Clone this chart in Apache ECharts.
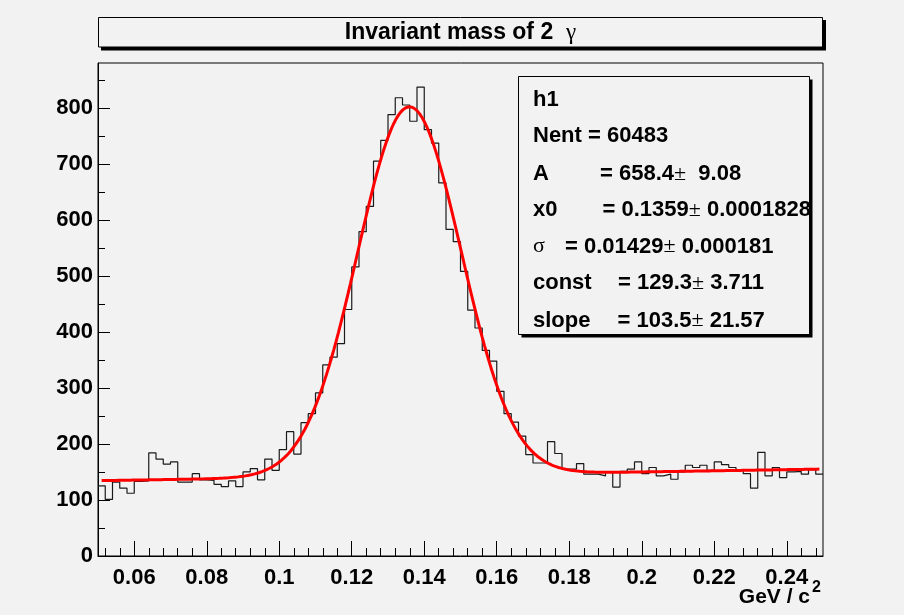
<!DOCTYPE html>
<html>
<head>
<meta charset="utf-8">
<script src="https://cdn.jsdelivr.net/npm/echarts@6/dist/echarts.min.js"></script>
<style>
  html, body { margin: 0; padding: 0; background: #f2f2f2; }
  #chart { width: 904px; height: 615px; }
</style>
</head>
<body>
<div id="chart"></div>
<script>
// Histogram h1: invariant mass of two photons, 100 bins from 0.05 to 0.25 GeV/c^2
const binLow = 0.05;
const binWidth = 0.002;
const binCounts = [
  125, 101, 132, 121, 112, 133, 134, 184, 173, 164,
  168, 132, 132, 147, 136, 135, 128, 124, 134, 124,
  150, 156, 136, 173, 153, 190, 222, 182, 238, 254,
  291, 341, 355, 379, 440, 516, 579, 624, 705, 742,
  788, 818, 805, 776, 837, 761, 737, 666, 583, 561,
  508, 439, 407, 367, 348, 294, 254, 239, 214, 181,
  166, 166, 204, 183, 155, 155, 165, 146, 146, 143,
  150, 123, 151, 155, 168, 147, 158, 143, 146, 137,
  150, 162, 158, 162, 153, 168, 163, 158, 153, 147,
  121, 185, 143, 158, 140, 150, 151, 146, 154, 146
];

// Fit result: gaussian + straight line
const fitA = 658.4;
const fitX0 = 0.1359;
const fitSigma = 0.01429;
const fitConst = 129.3;
const fitSlope = 103.5;
const fitRange = [0.051, 0.249];
const fitSamples = 300;

// Axis ticks and labels
const xMajorTicks = [0.06, 0.08, 0.10, 0.12, 0.14, 0.16, 0.18, 0.20, 0.22, 0.24];
const xTickLabels = ['0.06', '0.08', '0.1', '0.12', '0.14', '0.16', '0.18', '0.2', '0.22', '0.24'];
const xMinorTicks = [0.052, 0.056, 0.064, 0.068, 0.072, 0.076, 0.084, 0.088, 0.092, 0.096,
  0.104, 0.108, 0.112, 0.116, 0.124, 0.128, 0.132, 0.136, 0.144, 0.148, 0.152, 0.156,
  0.164, 0.168, 0.172, 0.176, 0.184, 0.188, 0.192, 0.196, 0.204, 0.208, 0.212, 0.216,
  0.224, 0.228, 0.232, 0.236, 0.244, 0.248];
const yMajorTicks = [0, 100, 200, 300, 400, 500, 600, 700, 800];
const yTickLabels = ['0', '100', '200', '300', '400', '500', '600', '700', '800'];
const yMinorTicks = [50, 150, 250, 350, 450, 550, 650, 750, 850];

// Stats box
const statsNames = ['h1', 'Nent = 60483', 'A', 'x0', 'σ', 'const', 'slope'];
const statsValues = ['', '', '= 658.4±  9.08', '= 0.1359± 0.0001828', '= 0.01429± 0.000181',
  '= 129.3± 3.711', '= 103.5± 21.57'];

const titleText = 'Invariant mass of 2  ';
const titleSymbol = 'γ';
const xTitle = 'GeV / c';
const xTitleSup = '2';

// ---- build series data ----
const histPoints = binCounts.map((v, i) => [binLow + i * binWidth, v]);
histPoints.push([binLow + binCounts.length * binWidth, binCounts[binCounts.length - 1]]);

function fitFunc(x) {
  const t = (x - fitX0) / fitSigma;
  return fitA * Math.exp(-0.5 * t * t) + fitConst + fitSlope * x;
}
const fitPoints = [];
for (let i = 0; i <= fitSamples; i++) {
  const x = fitRange[0] + (fitRange[1] - fitRange[0]) * i / fitSamples;
  fitPoints.push([x, fitFunc(x)]);
}

const FONT = "'Liberation Sans', Arial, Helvetica, sans-serif";
const SYM = "'Liberation Serif', 'DejaVu Serif', serif";

function lookupLabel(ticks, labels, v) {
  for (let i = 0; i < ticks.length; i++) {
    if (Math.abs(ticks[i] - v) < 1e-9) return labels[i];
  }
  return '';
}

// Turn "±" and "σ" into plain (non-bold) symbol spans
function richify(s) {
  let out = '';
  let buf = '';
  for (const ch of s) {
    if (ch === '±' || ch === 'σ') {
      if (buf) { out += '{b|' + buf + '}'; buf = ''; }
      out += '{s|' + ch + '}';
    } else {
      buf += ch;
    }
  }
  if (buf) out += '{b|' + buf + '}';
  return out;
}

const richStyles = {
  b: { fontFamily: FONT, fontWeight: 'bold', fontSize: 22, fill: '#000' },
  s: { fontFamily: SYM, fontWeight: 'normal', fontSize: 22, fill: '#000' }
};

const gridL = 98, gridR = 823, gridT = 63, gridB = 556;

// stats box geometry
const sbX = 518.5, sbY = 76.5, sbW = 291, sbH = 258;
const statsNameX = 533;
const statsValueX = [0, 0, 600, 602.5, 565, 618, 617.5];
const statsLineY = [100, 136, 174, 210, 246.5, 283, 320.5];

const graphics = [];
// title box with shadow
graphics.push({ type: 'rect', z: 50, shape: { x: 101, y: 20, width: 725, height: 30.5 }, style: { fill: '#000' } });
graphics.push({ type: 'rect', z: 51, shape: { x: 98.5, y: 17.5, width: 724, height: 29.5 }, style: { fill: '#f2f2f2', stroke: '#000', lineWidth: 1 } });
graphics.push({
  type: 'text', z: 52,
  style: {
    x: 460.5, y: 32.5,
    text: '{t|' + titleText + '}{g|' + titleSymbol + '}',
    rich: {
      t: { fontFamily: FONT, fontWeight: 'bold', fontSize: 23, fill: '#000' },
      g: { fontFamily: SYM, fontWeight: 'normal', fontSize: 23, fill: '#000' }
    },
    align: 'center', verticalAlign: 'middle', textAlign: 'center', textVerticalAlign: 'middle'
  }
});
// stats box with shadow
graphics.push({ type: 'rect', z: 50, shape: { x: sbX + 3, y: sbY + 3, width: sbW, height: sbH }, style: { fill: '#000' } });
graphics.push({ type: 'rect', z: 51, shape: { x: sbX, y: sbY, width: sbW, height: sbH }, style: { fill: '#f2f2f2', stroke: '#000', lineWidth: 1 } });
statsNames.forEach((name, i) => {
  graphics.push({
    type: 'text', z: 52,
    style: {
      x: statsNameX, y: statsLineY[i], text: richify(name), rich: richStyles,
      align: 'left', verticalAlign: 'middle', textAlign: 'left', textVerticalAlign: 'middle'
    }
  });
  if (statsValues[i]) {
    graphics.push({
      type: 'text', z: 52,
      style: {
        x: statsValueX[i], y: statsLineY[i], text: richify(statsValues[i]), rich: richStyles,
        align: 'left', verticalAlign: 'middle', textAlign: 'left', textVerticalAlign: 'middle'
      }
    });
  }
});
// x axis title with superscript
graphics.push({
  type: 'text', z: 52,
  style: { x: 810, y: 597, text: xTitle, fill: '#000', font: 'bold 21px ' + FONT,
    align: 'right', verticalAlign: 'middle', textAlign: 'right', textVerticalAlign: 'middle' }
});
graphics.push({
  type: 'text', z: 52,
  style: { x: 812, y: 588, text: xTitleSup, fill: '#000', font: 'bold 16px ' + FONT,
    align: 'left', verticalAlign: 'middle', textAlign: 'left', textVerticalAlign: 'middle' }
});

const chart = echarts.init(document.getElementById('chart'), null, { renderer: 'canvas' });
chart.setOption({
  animation: false,
  backgroundColor: '#f2f2f2',
  grid: {
    left: gridL, right: 904 - gridR, top: gridT, bottom: 615 - gridB,
    show: true, borderColor: '#000', borderWidth: 1, backgroundColor: '#f2f2f2',
    containLabel: false
  },
  xAxis: [
    {
      type: 'value', min: binLow, max: binLow + binCounts.length * binWidth, position: 'bottom',
      axisLine: { show: true, onZero: false, lineStyle: { color: '#000', width: 1 } },
      axisTick: { show: true, inside: true, length: 15, customValues: xMajorTicks, lineStyle: { color: '#000' } },
      axisLabel: {
        show: true, customValues: xMajorTicks, margin: 11,
        formatter: v => lookupLabel(xMajorTicks, xTickLabels, v),
        color: '#000', fontFamily: FONT, fontWeight: 'bold', fontSize: 22
      },
      splitLine: { show: false }
    },
    {
      type: 'value', min: binLow, max: binLow + binCounts.length * binWidth, position: 'bottom',
      axisLine: { show: false, onZero: false },
      axisTick: { show: true, inside: true, length: 8, customValues: xMinorTicks, lineStyle: { color: '#000' } },
      axisLabel: { show: false },
      splitLine: { show: false }
    }
  ],
  yAxis: [
    {
      type: 'value', min: 0, max: 880, position: 'left',
      axisLine: { show: true, onZero: false, lineStyle: { color: '#000', width: 1 } },
      axisTick: { show: true, inside: true, length: 12, customValues: yMajorTicks, lineStyle: { color: '#000' } },
      axisLabel: {
        show: true, customValues: yMajorTicks, margin: 5,
        formatter: v => lookupLabel(yMajorTicks, yTickLabels, v),
        color: '#000', fontFamily: FONT, fontWeight: 'bold', fontSize: 22
      },
      splitLine: { show: false }
    },
    {
      type: 'value', min: 0, max: 880, position: 'left',
      axisLine: { show: false, onZero: false },
      axisTick: { show: true, inside: true, length: 7, customValues: yMinorTicks, lineStyle: { color: '#000' } },
      axisLabel: { show: false },
      splitLine: { show: false }
    }
  ],
  series: [
    {
      name: 'h1', type: 'line', xAxisIndex: 0, yAxisIndex: 0,
      step: 'end', data: histPoints, symbol: 'none', showSymbol: false,
      lineStyle: { color: '#1a1a1a', width: 1.2 }, z: 2, silent: true
    },
    {
      name: 'fit', type: 'line', xAxisIndex: 0, yAxisIndex: 0,
      data: fitPoints, symbol: 'none', showSymbol: false, smooth: false,
      lineStyle: { color: '#ff0000', width: 3 }, z: 3, silent: true
    }
  ],
  graphic: graphics
});
</script>
</body>
</html>
